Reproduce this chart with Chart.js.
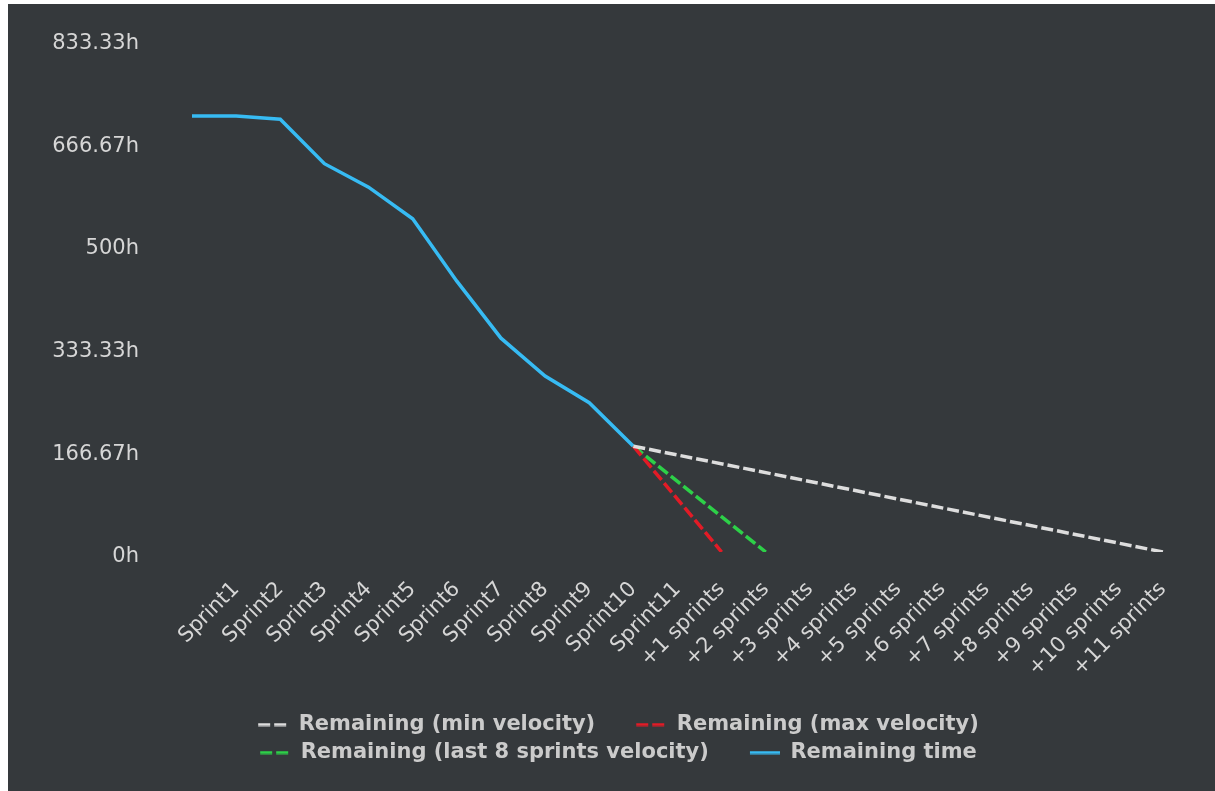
<!DOCTYPE html>
<html>
<head>
<meta charset="utf-8">
<script src="https://cdn.jsdelivr.net/npm/chart.js@4.4.1/dist/chart.umd.min.js"></script>
<style>
html, body { margin: 0; padding: 0; background: #ffffff; }
#wrap { position: absolute; left: 8px; top: 4px; width: 1207px; height: 787px; background: #35393c; }
</style>
</head>
<body>
<div id="wrap"><canvas id="c"></canvas></div>
<script>
// ---- data ----
const categories = ["", "Sprint1", "Sprint2", "Sprint3", "Sprint4", "Sprint5", "Sprint6", "Sprint7", "Sprint8", "Sprint9", "Sprint10", "Sprint11",
  "+1 sprints", "+2 sprints", "+3 sprints", "+4 sprints", "+5 sprints", "+6 sprints", "+7 sprints", "+8 sprints", "+9 sprints", "+10 sprints", "+11 sprints"];

const remainingTime = [707.7, 707.7, 702.3, 630.2, 592.1, 540.7, 439.5, 347.0, 285.6, 242.2, 171.7];
const minVelocity   = [null, null, null, null, null, null, null, null, null, null, 171.7, null, null, null, null, null, null, null, null, null, null, null, 0];
const maxVelocity   = [null, null, null, null, null, null, null, null, null, null, 171.7, null, 0];
const last8Velocity = [null, null, null, null, null, null, null, null, null, null, 171.7, null, null, 0];

const seriesNames = ["Remaining (min velocity)", "Remaining (max velocity)", "Remaining (last 8 sprints velocity)", "Remaining time"];

const yTickValues = [0, 166.667, 333.333, 500, 666.667, 833.333];
const yTickLabels = ["0h", "166.67h", "333.33h", "500h", "666.67h", "833.33h"];

// ---- styles ----
const C_GRAY = "rgb(221,221,221)";
const C_RED = "rgb(226,27,38)";
const C_GREEN = "rgb(45,208,72)";
const C_BLUE = "rgb(55,187,243)";
const DASH = [12, 4];
const TICK_COLOR = "#d6d6d6";
const LEGEND_COLOR = "#cbcbcb";

function legendMarker(color, dash) {
  const c = document.createElement("canvas");
  c.width = 64; c.height = 4;
  const g = c.getContext("2d");
  g.strokeStyle = color; g.lineWidth = 3; g.setLineDash(dash);
  g.beginPath(); g.moveTo(34, 2); g.lineTo(64, 2); g.stroke();
  return c;
}
const markers = [legendMarker(C_GRAY, DASH), legendMarker(C_RED, DASH), legendMarker(C_GREEN, DASH), legendMarker(C_BLUE, [])];

const FONT = "'DejaVu Sans', sans-serif";

new Chart(document.getElementById("c"), {
  type: "line",
  data: {
    labels: categories,
    datasets: [
      { label: seriesNames[0], data: minVelocity, borderColor: C_GRAY, backgroundColor: C_GRAY, borderDash: DASH, spanGaps: true },
      { label: seriesNames[1], data: maxVelocity, borderColor: C_RED, backgroundColor: C_RED, borderDash: DASH, spanGaps: true },
      { label: seriesNames[2], data: last8Velocity, borderColor: C_GREEN, backgroundColor: C_GREEN, borderDash: DASH, spanGaps: true },
      { label: seriesNames[3], data: remainingTime, borderColor: C_BLUE, backgroundColor: C_BLUE }
    ]
  },
  options: {
    responsive: true,
    maintainAspectRatio: false,
    animation: false,
    devicePixelRatio: 1,
    layout: { padding: { left: 32, right: 52, top: 34.5, bottom: 18 } },
    elements: {
      line: { borderWidth: 3.5, tension: 0, fill: false },
      point: { radius: 0, hoverRadius: 0 }
    },
    plugins: {
      tooltip: { enabled: false },
      legend: {
        position: "bottom",
        labels: {
          color: LEGEND_COLOR,
          font: { family: FONT, size: 21, weight: "bold" },
          usePointStyle: true,
          pointStyleWidth: 64,
          padding: 7,
          generateLabels: (chart) => Chart.defaults.plugins.legend.labels.generateLabels(chart)
            .map((it, i) => Object.assign(it, { pointStyle: markers[i] }))
        }
      }
    },
    scales: {
      x: {
        type: "category",
        grid: { display: false, drawTicks: false },
        border: { display: false },
        ticks: {
          autoSkip: false, minRotation: 45, maxRotation: 45, padding: 25,
          color: TICK_COLOR, font: { family: FONT, size: 21 }
        },
        afterFit: (s) => { s.height = 155; }
      },
      y: {
        min: 0, max: 833.333,
        grid: { display: false, drawTicks: true, tickLength: 50 },
        border: { display: false },
        afterBuildTicks: (s) => { s.ticks = yTickValues.map(v => ({ value: v })); },
        ticks: {
          padding: 3, labelOffset: 5, color: TICK_COLOR, font: { family: FONT, size: 21 },
          callback: (v, i) => yTickLabels[i]
        },
        afterFit: (s) => { s.width = 152; }
      }
    }
  }
});
</script>
</body>
</html>
